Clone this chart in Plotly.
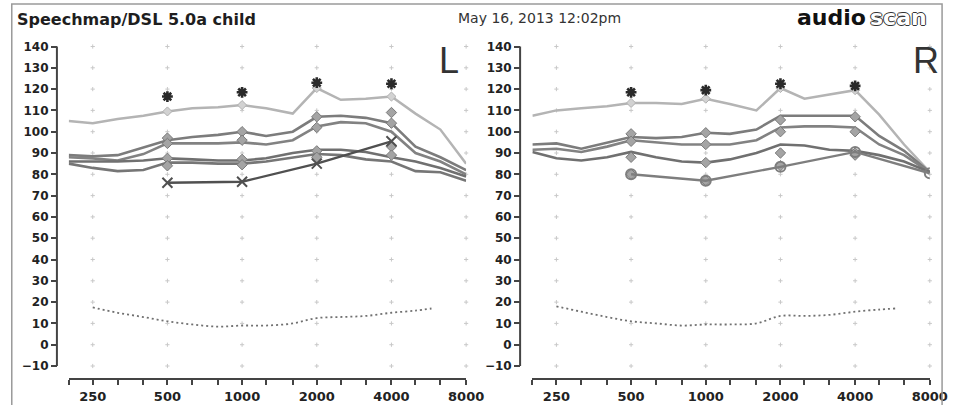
import math
import plotly.graph_objects as go

W, H = 964, 405

# ---------------- data ----------------
freqs = [200, 250, 315, 400, 500, 630, 800, 1000, 1250, 1600, 2000, 2500, 3150, 4000, 5000, 6300, 8000]
oct_freqs = [500, 1000, 2000, 4000]
tick_freqs = [250, 500, 1000, 2000, 4000, 8000]
tick_labels = ["250", "500", "1000", "2000", "4000", "8000"]
minor_freqs = [200, 315, 400, 630, 800, 1250, 1600, 2500, 3150, 5000, 6300]
db_ticks = list(range(-10, 141, 10))
thr_freqs = [250, 315, 400, 500, 630, 800, 1000, 1250, 1600, 2000, 2500, 3150, 4000, 5000, 5800]

# Left ear
left_mpo = [105, 104, 106, 107.5, 109.5, 111, 111.5, 112.5, 111, 108.5, 120.5, 115, 115.5, 116.5, 108.5, 101, 85]
left_mpo_targets = [116.5, 118.5, 123, 122.5]
left_speech_1 = [89, 88.5, 89, 92.5, 96, 97.5, 98.5, 100, 98, 100, 107, 107.5, 106.5, 104, 93, 88, 82]
left_speech_2 = [88, 87.5, 86.5, 89.5, 94.5, 94.5, 94.5, 95, 94, 96, 102.5, 104.5, 104, 100, 90, 86, 80]
left_speech_3 = [86, 86, 86, 86.5, 87.5, 87, 86.5, 86.5, 87.5, 90, 91.5, 91.5, 90.5, 88, 86, 83, 79]
left_speech_4 = [85, 83, 81.5, 82, 85.5, 85.5, 85, 85, 86, 88, 89.5, 89, 87, 86, 81.5, 81, 77]
left_aided_freqs = [500, 1000, 2000, 4000]
left_aided = [76, 76.5, 85, 95.5]
left_targets_a = [97, 100, 107, 109]
left_targets_b = [94.5, 96, 102, 104]
left_targets_c = [87.5, 87, 91, 93]
left_targets_d = [84, 84.5, 88, 89]
left_threshold = [17.5, 15, 13, 11, 9.5, 8.5, 9, 9, 10, 12.5, 13, 13.5, 15, 16, 17]

# Right ear
right_mpo = [107.5, 110, 111, 112, 113.5, 113.5, 113, 115.5, 113, 110, 120.5, 115.5, 117.5, 119.5, 108, 94, 81]
right_mpo_targets = [118.5, 119.5, 122.5, 121.5]
right_speech_1 = [94, 94.5, 92, 95, 97.5, 97, 97.5, 99.5, 99, 101, 107.5, 107.5, 107.5, 107.5, 98, 91, 81]
right_speech_2 = [91.5, 92, 90.5, 93, 96, 95, 94, 94, 94, 96, 102, 102.5, 102.5, 102, 94, 89, 81]
right_speech_3 = [90.5, 87.5, 86.5, 88, 90.5, 88, 86, 85.5, 87, 90, 94, 93.5, 91.5, 91, 89, 86, 81]
right_aided_freqs = [500, 1000, 2000, 4000, 8000]
right_aided = [80, 77, 83.5, 90.5, 80.5]
right_targets_a = [99, 99.5, 105.5, 107]
right_targets_b = [95.5, 94, 100, 100]
right_targets_c = [88, 85.5, 90, 90]
right_targets_d = [80, 77, 84, 89]
right_threshold = [18, 15.5, 13, 11, 10, 9, 9.5, 9.5, 10, 13.5, 13.5, 14, 15.5, 16.5, 17]

# ---------------- layout helpers ----------------
def px(x):
    return x / W

def py(y):
    return 1 - y / H

Y_RANGE = [-15.63, 143.05]
Y_DOMAIN = [py(378), py(40)]

fig = go.Figure()

panels = [
    dict(xa="x", ya="y", xdom=[px(70), px(475)], yaxis_x=px(58), ear="L", ear_x=px(458),
         mpo=left_mpo, mpo_t=left_mpo_targets,
         speech=[left_speech_1, left_speech_2, left_speech_3, left_speech_4],
         aided_f=left_aided_freqs, aided=left_aided, aided_symbol="x-thin-open",
         aided_color="#505050",
         targets=[left_targets_a, left_targets_b, left_targets_c, left_targets_d],
         thr=left_threshold),
    dict(xa="x2", ya="y2", xdom=[px(542.5), px(947.5)], yaxis_x=px(530), ear="R", ear_x=px(944),
         mpo=right_mpo, mpo_t=right_mpo_targets,
         speech=[right_speech_1, right_speech_2, right_speech_3],
         aided_f=right_aided_freqs, aided=right_aided, aided_symbol="circle-open",
         aided_color="#7e7e7e",
         targets=[right_targets_a, right_targets_b, right_targets_c, right_targets_d],
         thr=right_threshold),
]

speech_colors = ["#7c7c7c", "#828282", "#707070", "#767676"]

for p in panels:
    xa, ya = p["xa"], p["ya"]
    # dotted grid points at octave x tick positions and 10 dB levels
    gx = [f for f in tick_freqs for _ in db_ticks]
    gy = [d for _ in tick_freqs for d in db_ticks]
    fig.add_trace(go.Scatter(x=gx, y=gy, xaxis=xa, yaxis=ya, mode="markers",
                             marker=dict(symbol="cross-thin", size=3, color="#c8c8c8",
                                         line=dict(width=1, color="#c8c8c8")),
                             hoverinfo="skip", showlegend=False, cliponaxis=False))
    # threshold (dotted)
    fig.add_trace(go.Scatter(x=thr_freqs, y=p["thr"], xaxis=xa, yaxis=ya, mode="lines",
                             line=dict(color="#707070", width=1.8, dash="2px,3px", shape="spline"),
                             showlegend=False))
    # MPO curve
    fig.add_trace(go.Scatter(x=freqs, y=p["mpo"], xaxis=xa, yaxis=ya, mode="lines",
                             line=dict(color="#b4b4b4", width=2.5),
                             showlegend=False))
    mpo_oct = [p["mpo"][freqs.index(f)] for f in oct_freqs]
    fig.add_trace(go.Scatter(x=oct_freqs, y=mpo_oct, xaxis=xa, yaxis=ya, mode="markers",
                             marker=dict(symbol="diamond", size=7, color="#d2d2d2",
                                         line=dict(width=1, color="#b0b0b0")),
                             showlegend=False))
    # speech curves
    for i, s in enumerate(p["speech"]):
        fig.add_trace(go.Scatter(x=freqs, y=s, xaxis=xa, yaxis=ya, mode="lines",
                                 line=dict(color=speech_colors[i], width=2.6),
                                 showlegend=False))
    # target markers
    for t in p["targets"]:
        fig.add_trace(go.Scatter(x=oct_freqs, y=t, xaxis=xa, yaxis=ya, mode="markers",
                                 marker=dict(symbol="diamond", size=8, color="#a4a4a4",
                                             line=dict(width=1, color="#7a7a7a")),
                                 showlegend=False))
    # aided measurement
    fig.add_trace(go.Scatter(x=p["aided_f"], y=p["aided"], xaxis=xa, yaxis=ya, mode="lines+markers",
                             line=dict(color=p["aided_color"], width=2.4),
                             marker=dict(symbol=p["aided_symbol"], size=10, color=p["aided_color"],
                                         line=dict(width=2, color=p["aided_color"])),
                             showlegend=False))
    # MPO targets (asterisks)
    fig.add_trace(go.Scatter(x=oct_freqs, y=p["mpo_t"], xaxis=xa, yaxis=ya, mode="markers",
                             marker=dict(symbol="asterisk-open", size=9, color="#2a2a2a",
                                         line=dict(width=2.6, color="#2a2a2a")),
                             showlegend=False))

axis_font = dict(family="DejaVu Sans", size=13, color="#222", weight="bold")
yaxis_font = dict(family="DejaVu Sans", size=12, color="#222", weight="bold")

for p in panels:
    xkey = "xaxis" if p["xa"] == "x" else "xaxis2"
    ykey = "yaxis" if p["ya"] == "y" else "yaxis2"
    fig.update_layout(**{
        xkey: dict(type="log", domain=p["xdom"], anchor=p["ya"],
                   range=[math.log10(200), math.log10(8000)],
                   tickvals=tick_freqs, ticktext=tick_labels,
                   ticks="outside", ticklen=5, tickwidth=1.5, tickcolor="#444",
                   showline=True, linecolor="#444", linewidth=2,
                   minor=dict(tickvals=minor_freqs, ticks="outside", ticklen=5,
                              tickwidth=1.5, tickcolor="#444", showgrid=False),
                   showgrid=False, zeroline=False, tickfont=axis_font, fixedrange=True),
        ykey: dict(domain=Y_DOMAIN, range=Y_RANGE, anchor="free", position=p["yaxis_x"],
                   tickvals=db_ticks, ticks="outside", ticklen=6, tickwidth=1.5,
                   tickcolor="#444", showline=False, showgrid=False, zeroline=False,
                   tickfont=yaxis_font, fixedrange=True),
    })

shapes = []
for p in panels:
    shapes.append(dict(type="line", xref="paper", yref=p["ya"], x0=p["yaxis_x"], x1=p["yaxis_x"],
                       y0=db_ticks[0], y1=db_ticks[-1], line=dict(color="#444", width=2)))
# outer frame
shapes.append(dict(type="rect", xref="paper", yref="paper", x0=px(12), x1=px(960),
                   y0=-0.02, y1=py(4), line=dict(color="#9a9a9a", width=1.5)))

annotations = [
    dict(text="Speechmap/DSL 5.0a child", x=px(15), y=py(19), xref="paper", yref="paper",
         xanchor="left", yanchor="middle", showarrow=False,
         font=dict(family="DejaVu Sans", size=16, color="#1e1e1e", weight="bold")),
    dict(text="May 16, 2013 12:02pm", x=px(465), y=py(18), xref="paper", yref="paper",
         xanchor="left", yanchor="middle", showarrow=False,
         font=dict(family="DejaVu Sans", size=14, color="#333")),
    dict(text="audio", x=px(885), y=py(18), xref="paper", yref="paper",
         xanchor="right", yanchor="middle", showarrow=False,
         font=dict(family="DejaVu Sans", size=22, color="#111", weight="bold")),
    dict(text="scan", x=px(885), y=py(18), xref="paper", yref="paper",
         xanchor="left", yanchor="middle", showarrow=False,
         font=dict(family="DejaVu Sans", size=22, color="#ffffff", weight="bold",
                   shadow="1px 0 0 #333, -1px 0 0 #333, 0 1px 0 #333, 0 -1px 0 #333")),
]
for p in panels:
    annotations.append(dict(text=p["ear"], x=p["ear_x"], y=py(61), xref="paper", yref="paper",
                            xanchor="center", yanchor="middle", showarrow=False,
                            font=dict(family="Liberation Sans", size=36, color="#333")))

fig.update_layout(width=W, height=H, margin=dict(l=0, r=0, t=0, b=0),
                  paper_bgcolor="white", plot_bgcolor="white",
                  shapes=shapes, annotations=annotations, showlegend=False)

fig.write_html("out.html")
